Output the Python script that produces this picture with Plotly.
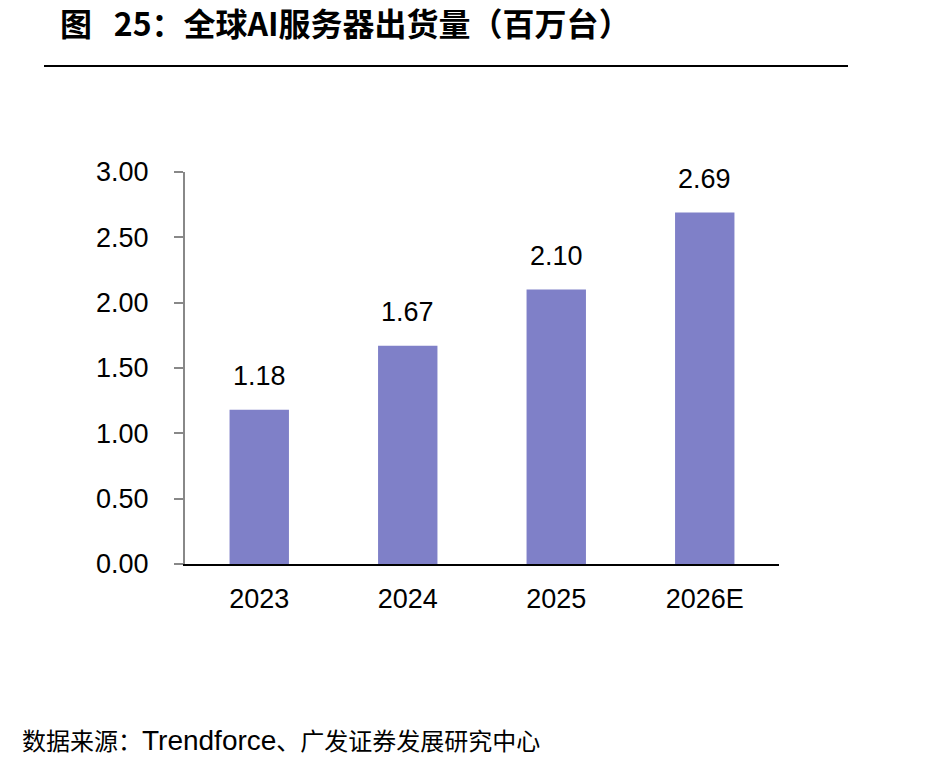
import plotly.graph_objects as go

categories = ["2023", "2024", "2025", "2026E"]
values = [1.18, 1.67, 2.10, 2.69]
value_labels = ["1.18", "1.67", "2.10", "2.69"]
y_ticks = [0, 0.5, 1.0, 1.5, 2.0, 2.5, 3.0]
y_tick_labels = ["0.00", "0.50", "1.00", "1.50", "2.00", "2.50", "3.00"]
title_text = "图&nbsp;&nbsp;&nbsp;25：全球AI服务器出货量（百万台）"
source_text = "数据来源：<span style='font-size:28px'>Trendforce</span>、广发证券发展研究中心"

W, H = 951, 768
L, R, T, B = 185, 172, 172, 204
pw, ph = W - L - R, H - T - B

def px_x(x):
    return (x - L) / pw

def px_y(y):
    return (H - B - y) / ph

FONT = "Liberation Sans, Arial, Noto Sans CJK SC, sans-serif"

fig = go.Figure()
fig.add_trace(go.Bar(
    x=categories, y=values,
    marker=dict(color="#7f80c8", line=dict(width=0)),
    width=0.4,
))

for i, (v, t) in enumerate(zip(values, value_labels)):
    fig.add_annotation(x=i, y=v, text=t, showarrow=False, yanchor="bottom",
                       yshift=17, font=dict(size=27, color="#000", family=FONT))

fig.add_annotation(xref="paper", yref="paper", x=px_x(58), y=px_y(22),
                   xanchor="left", yanchor="middle", showarrow=False,
                   text="<b>" + title_text + "</b>",
                   font=dict(size=32, color="#000", family="Noto Sans CJK SC, Liberation Sans, sans-serif"))
fig.add_annotation(xref="paper", yref="paper", x=px_x(20), y=px_y(740),
                   xanchor="left", yanchor="middle", showarrow=False,
                   text=source_text,
                   font=dict(size=24, color="#000", family=FONT))
fig.add_shape(type="line", xref="paper", yref="paper",
              x0=px_x(44), x1=px_x(848), y0=px_y(66), y1=px_y(66),
              line=dict(color="#000", width=2))

fig.update_layout(
    width=W, height=H,
    margin=dict(l=L, r=R, t=T, b=B, pad=0),
    plot_bgcolor="white", paper_bgcolor="white",
    showlegend=False,
    font=dict(family=FONT, size=27, color="#000"),
    xaxis=dict(type="category", showline=True, linecolor="#000", linewidth=2, ticks="",
               showgrid=False, tickfont=dict(size=27), ticklabelstandoff=10,
               range=[-0.5, 3.5]),
    yaxis=dict(range=[0, 3.0], tickvals=y_ticks, ticktext=y_tick_labels,
               showline=True, linecolor="#888", linewidth=2, ticks="outside",
               ticklen=9, tickcolor="#888", tickwidth=2, showgrid=False,
               zeroline=False, tickfont=dict(size=27), ticklabelstandoff=20),
)

fig.write_html("out.html")
